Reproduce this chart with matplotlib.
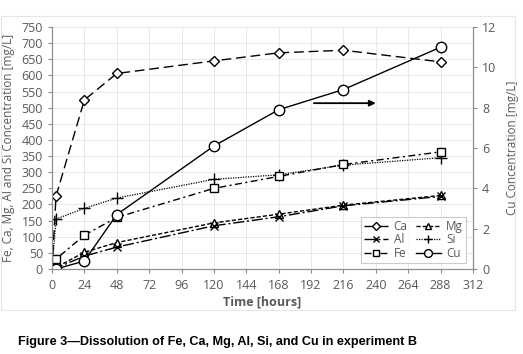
import matplotlib.pyplot as plt
from matplotlib.patches import Rectangle

# sampling times [hours]
time = [0, 3, 24, 48, 120, 168, 216, 288]

# concentrations [mg/L], left axis
ca = [0, 226, 524, 606, 645, 670, 678, 642]
mg = [0, 5, 52, 82, 143, 170, 198, 228]
al = [0, 3, 40, 68, 134, 162, 196, 225]
si = [0, 155, 188, 220, 278, 292, 322, 345]
fe = [0, 31, 105, 160, 250, 287, 324, 363]

# Cu [mg/L], right axis
cu = [0, 0, 0.4, 2.7, 6.1, 7.9, 8.9, 11.0]

grey = "#595959"
plt.rcParams["font.family"] = ["Open Sans", "DejaVu Sans"]

fig = plt.figure(figsize=(5.23, 3.54), dpi=100)
ax = fig.add_axes([0.0994, 0.240, 0.8050, 0.6837])
ax2 = ax.twinx()

# faint chart-area border
fig.patches.append(Rectangle((0.002, 0.125), 0.983, 0.83, transform=fig.transFigure,
                             fill=False, edgecolor="#e6e6e6", linewidth=0.8))

mk = dict(color="black", markerfacecolor="white", markeredgecolor="black",
          markeredgewidth=1.0)

l_ca, = ax.plot(time, ca, dashes=(7, 3.5), lw=1.0, marker="D", markersize=5, label="Ca", **mk)
l_mg, = ax.plot(time, mg, dashes=(3, 1.5), lw=1.0, marker="^", markersize=6, label="Mg", **mk)
l_al, = ax.plot(time, al, dashes=(8, 2, 1.5, 2), lw=1.0, marker="x", markersize=6, label="Al", **mk)
l_si, = ax.plot(time, si, linestyle=(0, (1, 1)), lw=0.9, marker="+", markersize=8, label="Si", **mk)
l_fe, = ax.plot(time, fe, dashes=(5, 2.5, 1.5, 2.5), lw=1.0, marker="s", markersize=6, label="Fe", **mk)
l_cu, = ax2.plot(time, cu, linestyle="-", lw=1.0, marker="o", markersize=7.5, label="Cu", **mk)

ax.set_xlim(0, 312)
ax.set_ylim(0, 750)
ax2.set_ylim(0, 12)
ax.set_xticks(range(0, 313, 24))
ax.set_yticks(range(0, 751, 50))
ax2.set_yticks(range(0, 13, 2))

ax.grid(True, color="#e8e8e8", linewidth=0.7)
ax.set_axisbelow(True)

for a in (ax, ax2):
    for s in a.spines.values():
        s.set_color("#8c8c8c")
        s.set_linewidth(0.8)
    a.spines["top"].set_visible(False)
    a.tick_params(colors="#8c8c8c", labelcolor=grey, labelsize=9, length=3, width=0.8)
ax.tick_params(axis="x", pad=4)

ax.set_xlabel("Time [hours]", color=grey, fontsize=9, fontweight="bold", labelpad=3)
ax.set_ylabel("Fe, Ca, Mg, Al and Si Concentration [mg/L]", color=grey, fontsize=8.5, labelpad=5)
ax2.set_ylabel("Cu Concentration [mg/L]", color=grey, fontsize=8.5, labelpad=7)

# arrow pointing to the Cu axis
ax.annotate("", xy=(242, 514), xytext=(192, 514),
            arrowprops=dict(arrowstyle="-|>", color="black", lw=1.3, mutation_scale=9))

leg = ax2.legend(handles=[l_ca, l_al, l_fe, l_mg, l_si, l_cu], ncol=2,
                 loc="lower right", bbox_to_anchor=(0.983, 0.025), borderaxespad=0,
                 fontsize=8.5, markerscale=0.75,
                 frameon=True, fancybox=False, edgecolor="#bfbfbf", handlelength=2.1,
                 handletextpad=0.45, columnspacing=0.7, labelspacing=0.05,
                 borderpad=0.25, labelcolor=grey)
leg.get_frame().set_linewidth(0.8)

fig.text(0.034, 0.025, "Figure 3\u2014Dissolution of Fe, Ca, Mg, Al, Si, and Cu in experiment B",
         fontsize=9.1, fontweight="bold",
         family=["Liberation Sans Narrow", "Liberation Sans", "DejaVu Sans"])

fig.savefig("out.png", dpi=100)
